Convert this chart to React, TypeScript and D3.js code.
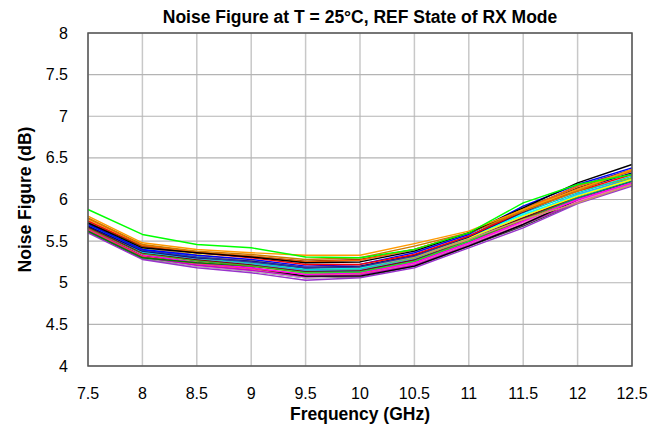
import React from "react";
import * as d3 from "d3";

const freqs = [7.5, 8, 8.5, 9, 9.5, 10, 10.5, 11, 11.5, 12, 12.5];
const xTicks = [7.5, 8, 8.5, 9, 9.5, 10, 10.5, 11, 11.5, 12, 12.5];
const yTicks = [4, 4.5, 5, 5.5, 6, 6.5, 7, 7.5, 8];

const s01 = [5.88, 5.58, 5.46, 5.42, 5.31, 5.30, 5.40, 5.60, 5.96, 6.18, 6.30];
const s02 = [5.80, 5.48, 5.40, 5.36, 5.33, 5.33, 5.47, 5.62, 5.88, 6.12, 6.36];
const s03 = [5.78, 5.46, 5.38, 5.34, 5.28, 5.30, 5.44, 5.60, 5.86, 6.10, 6.36];
const s04 = [5.72, 5.42, 5.36, 5.31, 5.24, 5.25, 5.38, 5.60, 5.90, 6.20, 6.42];
const s05 = [5.70, 5.40, 5.33, 5.28, 5.20, 5.22, 5.36, 5.58, 5.92, 6.18, 6.38];
const s06 = [5.74, 5.44, 5.36, 5.30, 5.22, 5.22, 5.34, 5.56, 5.86, 6.10, 6.30];
const s07 = [5.68, 5.38, 5.30, 5.26, 5.18, 5.20, 5.33, 5.55, 5.85, 6.12, 6.32];
const s08 = [5.73, 5.40, 5.32, 5.25, 5.17, 5.18, 5.32, 5.55, 5.82, 6.05, 6.24];
const s09 = [5.66, 5.34, 5.24, 5.18, 5.10, 5.12, 5.24, 5.48, 5.74, 6.00, 6.20];
const s10 = [5.60, 5.28, 5.18, 5.12, 5.03, 5.06, 5.18, 5.42, 5.66, 5.95, 6.16];
const s11 = [5.62, 5.30, 5.22, 5.16, 5.08, 5.10, 5.22, 5.46, 5.70, 5.96, 6.18];
const s12 = [5.64, 5.30, 5.20, 5.14, 5.06, 5.08, 5.21, 5.44, 5.72, 5.98, 6.20];
const s13 = [5.76, 5.42, 5.34, 5.27, 5.19, 5.20, 5.33, 5.54, 5.80, 6.04, 6.24];
const s14 = [5.62, 5.30, 5.24, 5.20, 5.14, 5.14, 5.26, 5.50, 5.76, 6.04, 6.24];
const s15 = [5.68, 5.36, 5.27, 5.21, 5.13, 5.14, 5.27, 5.50, 5.78, 6.02, 6.22];
const s16 = [5.65, 5.33, 5.23, 5.17, 5.09, 5.11, 5.23, 5.47, 5.72, 5.98, 6.18];
const s17 = [5.72, 5.44, 5.36, 5.32, 5.26, 5.28, 5.40, 5.60, 5.86, 6.14, 6.34];
const s18 = [5.70, 5.38, 5.30, 5.24, 5.16, 5.17, 5.30, 5.52, 5.92, 6.10, 6.26];
const s19 = [5.66, 5.32, 5.24, 5.18, 5.08, 5.08, 5.20, 5.44, 5.70, 6.00, 6.22];
const s20 = [5.69, 5.37, 5.29, 5.23, 5.15, 5.16, 5.29, 5.53, 5.80, 6.06, 6.26];
const s21 = [5.67, 5.36, 5.28, 5.22, 5.14, 5.15, 5.28, 5.52, 5.78, 6.04, 6.26];
const s22 = [5.63, 5.31, 5.21, 5.15, 5.07, 5.09, 5.21, 5.45, 5.70, 5.97, 6.18];
const s23 = [5.66, 5.35, 5.26, 5.20, 5.12, 5.13, 5.26, 5.50, 5.76, 6.02, 6.22];
const s24 = [5.71, 5.39, 5.31, 5.25, 5.18, 5.19, 5.32, 5.56, 5.88, 6.16, 6.36];
const s25 = [5.75, 5.43, 5.33, 5.26, 5.18, 5.19, 5.31, 5.52, 5.76, 5.96, 6.18];
const s26 = [5.77, 5.45, 5.37, 5.32, 5.25, 5.27, 5.40, 5.60, 5.88, 6.16, 6.34];
const s27 = [5.67, 5.35, 5.27, 5.21, 5.12, 5.13, 5.26, 5.50, 5.80, 6.06, 6.24];
const s28 = [5.64, 5.32, 5.23, 5.17, 5.10, 5.11, 5.24, 5.48, 5.74, 6.00, 6.20];
const s29 = [5.61, 5.29, 5.20, 5.14, 5.06, 5.07, 5.20, 5.44, 5.68, 5.96, 6.18];
const s30 = [5.70, 5.37, 5.30, 5.24, 5.16, 5.17, 5.31, 5.54, 5.84, 6.08, 6.28];

const seriesList = [
  s29, s10, s12, s11, s22, s16, s19, s28, s09, s14, s23, s15, s27, s21, s20,
  s18, s30, s08, s13, s25, s07, s24, s05, s06, s17, s26, s03, s04, s02, s01,
];
const seriesColors = [
  "#404040", "#9933cc", "#c0c0c0", "#808080", "#cc00cc", "#ff66cc", "#000000", "#ff3366",
  "#ff00ff", "#008000", "#808000", "#008080", "#33cc33", "#800000", "#3399ff",
  "#99cc00", "#00cccc", "#00ffff", "#ffff00", "#cc9966", "#000080", "#333399", "#0000ff",
  "#ff0000", "#993300", "#ff6600", "#cc7a00", "#000000", "#ff9900", "#00ff00",
];

const W = 650;
const H = 430;
const M = { left: 88, right: 632, top: 33, bottom: 366 };
const FONT = "'Liberation Sans', Arial, sans-serif";

export default function App() {
  const x = d3.scaleLinear().domain([7.5, 12.5]).range([M.left, M.right]);
  const y = d3.scaleLinear().domain([4, 8]).range([M.bottom, M.top]);
  const line = d3
    .line<number>()
    .x((_, i) => x(freqs[i]))
    .y((d) => y(d));

  return (
    <svg width={W} height={H} style={{ position: "absolute", left: 0, top: 0, background: "#fff" }}>
      <rect x={0} y={0} width={W} height={H} fill="#fff" />
      {xTicks.map((t) => (
        <line key={"gx" + t} x1={x(t)} x2={x(t)} y1={M.top} y2={M.bottom} stroke="#c8c8c8" strokeWidth={1.5} />
      ))}
      {yTicks.map((t) => (
        <line key={"gy" + t} x1={M.left} x2={M.right} y1={y(t)} y2={y(t)} stroke="#b4b4b4" strokeWidth={1.2} />
      ))}
      <g fill="none" strokeWidth={1.4} strokeLinejoin="round">
        {seriesList.map((s, i) => (
          <path key={i} d={line(s) || ""} stroke={seriesColors[i]} />
        ))}
      </g>
      <rect x={M.left} y={M.top} width={M.right - M.left} height={M.bottom - M.top} fill="none" stroke="#555" strokeWidth={1.5} />
      <g fontFamily={FONT} fontSize={16} fill="#000">
        {yTicks.map((t) => (
          <text key={"ty" + t} x={M.left - 20} y={y(t)} dy="0.35em" textAnchor="end">
            {String(t)}
          </text>
        ))}
        {xTicks.map((t) => (
          <text key={"tx" + t} x={x(t)} y={399} textAnchor="middle">
            {String(t)}
          </text>
        ))}
      </g>
      <text x={(M.left + M.right) / 2} y={23} textAnchor="middle" fontFamily={FONT} fontSize={17.5} fontWeight="bold">
        Noise Figure at T = 25°C, REF State of RX Mode
      </text>
      <text x={(M.left + M.right) / 2} y={420} textAnchor="middle" fontFamily={FONT} fontSize={17.5} fontWeight="bold">
        Frequency (GHz)
      </text>
      <text
        transform={`translate(31, ${(M.top + M.bottom) / 2}) rotate(-90)`}
        textAnchor="middle"
        fontFamily={FONT}
        fontSize={17.5}
        fontWeight="bold"
      >
        Noise Figure (dB)
      </text>
    </svg>
  );
}
